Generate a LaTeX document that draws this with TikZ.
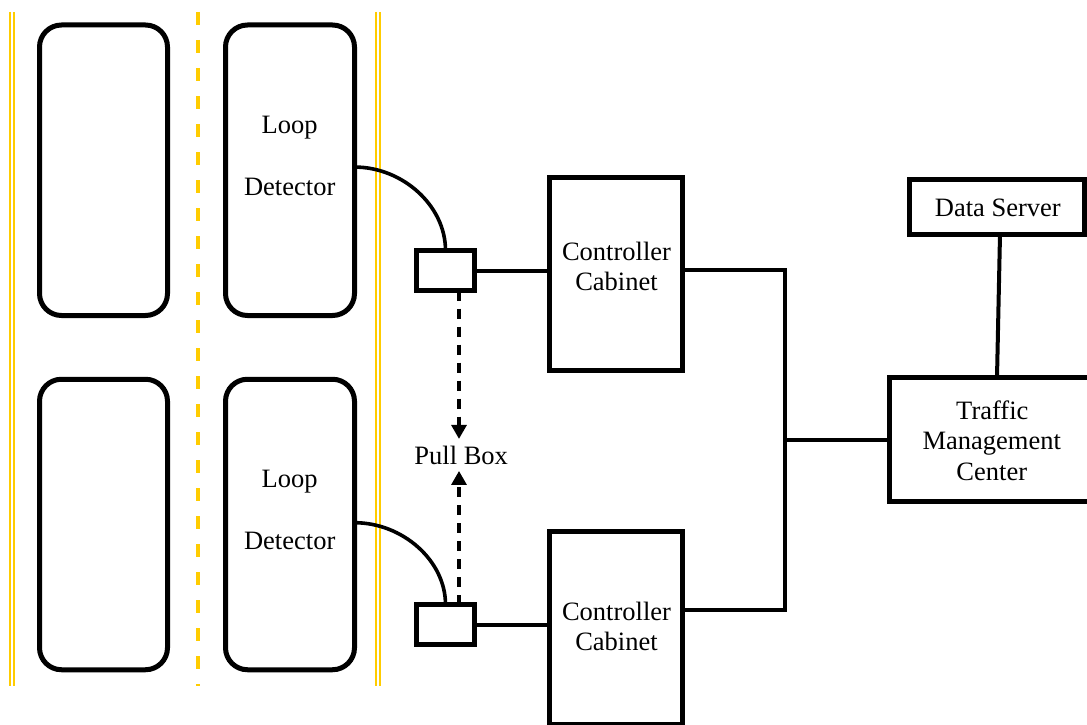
\documentclass[tikz,border=0pt]{standalone}
\usepackage{fontspec}
\setmainfont{LiberationSerif}[Extension=.ttf, UprightFont=*-Regular, BoldFont=*-Bold, ItalicFont=*-Italic, BoldItalicFont=*-BoldItalic]
\usetikzlibrary{arrows.meta}
\definecolor{roadyellow}{RGB}{255,204,0}

\begin{document}
\begin{tikzpicture}[x=1pt,y=-1pt,
  lane/.style={draw, line width=5pt, rounded corners=22pt, minimum height=290.5pt, inner sep=0pt, outer sep=0pt},
  boxnode/.style={draw, line width=5.5pt, inner sep=0pt, outer sep=0pt},
  wire/.style={line width=4pt},
  txt/.style={font=\fontsize{26.5}{30}\selectfont, inner sep=0pt, anchor=base},
  edgeline/.style={roadyellow, line width=1.6pt},
  centreline/.style={roadyellow, line width=4pt, dash pattern=on 13pt off 15pt},
  pull/.style={line width=3.2pt, dash pattern=on 10pt off 8pt, -{Triangle[length=14pt,width=15pt]}}
]
\clip (0,0) rectangle (1087,725);
\fill[white] (0,0) rectangle (1087,725);

% road edges and centre line
\draw[edgeline] (10,12) -- (10,686);
\draw[edgeline] (14,12) -- (14,686);
\draw[edgeline] (375.7,12) -- (375.7,686);
\draw[edgeline] (379.7,12) -- (379.7,686);
\draw[centreline] (197.5,12) -- (197.5,686);

% lanes with loop detectors
\node[lane, minimum width=128pt] (la1) at (103.5,170.25) {};
\node[lane, minimum width=129pt] (ld1) at (290,170.25) {};
\node[lane, minimum width=128pt] (la2) at (103.5,524.5) {};
\node[lane, minimum width=129pt] (ld2) at (290,524.5) {};
\node[txt] (ld1a) at (289.7,133.3) {Loop};
\node[txt] (ld1b) at (289.7,195) {Detector};
\node[txt] (ld2a) at (289.7,487.6) {Loop};
\node[txt] (ld2b) at (289.7,549.3) {Detector};

% pull boxes
\node[boxnode, minimum width=58pt, minimum height=40pt] (pb1) at (445.5,270.5) {};
\node[boxnode, minimum width=58pt, minimum height=40pt] (pb2) at (445.5,624.5) {};
\node[txt, inner ysep=6.5pt] (pbt) at (461.2,464) {Pull Box};

% controller cabinets
\node[boxnode, minimum width=133pt, minimum height=193pt] (cab1) at (616,274) {};
\node[boxnode, minimum width=133pt, minimum height=193pt] (cab2) at (616,628) {};
\node[txt] (cab1a) at (616.5,260.3) {Controller};
\node[txt] (cab1b) at (616.5,290.3) {Cabinet};
\node[txt] (cab2a) at (616.5,620.3) {Controller};
\node[txt] (cab2b) at (616.5,650.3) {Cabinet};

% centre side
\node[boxnode, minimum width=175pt, minimum height=55pt] (ds) at (997,207) {};
\node[txt] (dst) at (997.8,216.7) {Data Server};
\node[boxnode, minimum width=205pt, minimum height=124pt] (tmc) at (992,439.5) {};
\node[txt] (tmca) at (992.3,419) {Traffic};
\node[txt] (tmcb) at (991.8,449.6) {Management};
\node[txt] (tmcc) at (991.8,480.3) {Center};

% detector leads
\draw[wire, line width=3.6pt] ([yshift=3.2pt]ld1.east) .. controls +(48,0) and +(0,-45) .. (pb1.north);
\draw[wire, line width=3.6pt] ([yshift=1.8pt]ld2.east) .. controls +(48,0) and +(0,-44) .. (pb2.north);

% pull box conduit
\draw[pull] ([xshift=13.5pt]pb1.south) -- ([xshift=13.5pt]pb1.south |- pbt.north);
\draw[pull] ([xshift=13.5pt]pb2.north) -- ([xshift=13.5pt]pb2.north |- pbt.south);

% communication lines
\coordinate (busT) at (785,270);
\coordinate (busB) at (785,610);
\coordinate (bus) at (785,440);
\draw[wire] (pb1.east) -- (cab1.west |- pb1.east);
\draw[wire] (pb2.east) -- (cab2.west |- pb2.east);
\draw[wire] (cab1.east |- busT) -- (busT) -- (busB) -- (cab2.east |- busB);
\draw[wire] (bus) -- (tmc.west |- bus);
\draw[wire] ([xshift=3pt]ds.south) -- ([xshift=5pt]tmc.north);
\end{tikzpicture}
\end{document}
